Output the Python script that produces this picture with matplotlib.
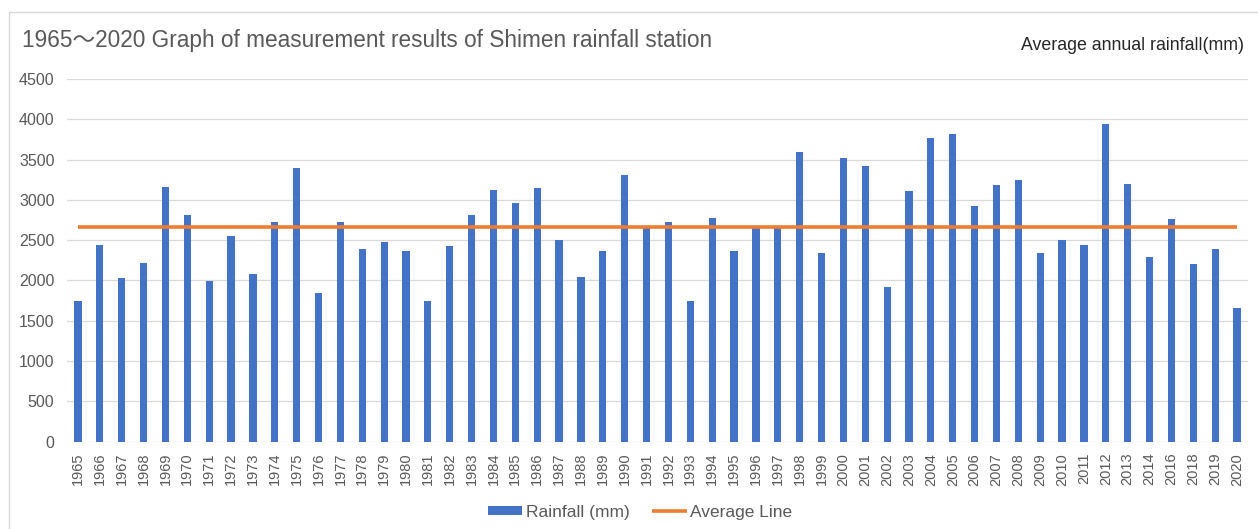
import matplotlib.pyplot as plt
from matplotlib.patches import Rectangle
import numpy as np

years = [str(y) for y in range(1965, 2015)] + ["2016", "2018", "2019", "2020"]
rainfall = [
    1740, 2440, 2030, 2220, 3160, 2810, 1990, 2550, 2080, 2720,
    3390, 1850, 2720, 2390, 2480, 2360, 1740, 2430, 2810, 3120,
    2960, 3150, 2500, 2040, 2360, 3310, 2650, 2730, 1740, 2770,
    2370, 2650, 2650, 3590, 2340, 3520, 3420, 1920, 3110, 3770,
    3820, 2930, 3190, 3250, 2340, 2500, 2440, 3940, 3200, 2290,
    2760, 2210, 2390, 1660,
]
average = [2660] * len(years)
yticks = list(range(0, 4501, 500))

BLUE = "#4472C4"
ORANGE = "#ED7D31"
TXT = "#595959"
FONT = ["Liberation Sans", "DejaVu Sans", "Noto Sans CJK JP"]

plt.rcParams["font.family"] = FONT

W, H = 1258, 529
fig = plt.figure(figsize=(W / 100, H / 100), dpi=100)

# outer chart frame (cut off at right and bottom like the screenshot)
fig.patches.append(Rectangle((9 / W, -0.05), 1.1, 1 - 12 / H + 0.05,
                             transform=fig.transFigure, fill=False,
                             edgecolor="#D9D9D9", linewidth=1.0))

ax = fig.add_axes([67 / W, 1 - 441.7 / H, (1248 - 67) / W, (441.7 - 79) / H])
x = np.arange(len(years))
bars = ax.bar(x, rainfall, width=0.33, color=BLUE, zorder=2, label="Rainfall (mm)")
line, = ax.plot(x, average, color=ORANGE, linewidth=2.6, zorder=3,
                solid_capstyle="butt", label="Average Line")

ax.set_xlim(-0.5, len(years) - 0.5)
ax.set_ylim(0, 4500)
ax.set_yticks(yticks)
ax.set_xticks(x)
ax.set_xticklabels(years, rotation=90)
ax.grid(axis="y", color="#D9D9D9", linewidth=0.9, zorder=0)
ax.tick_params(axis="both", length=0, colors=TXT, labelsize=10.5)
ax.tick_params(axis="y", pad=9, labelsize=11.5)
ax.tick_params(axis="x", pad=8)
for s in ax.spines.values():
    s.set_visible(False)

fig.text(22 / W, 1 - 41 / H, "1965～2020 Graph of measurement results of Shimen rainfall station",
         fontsize=16.3, color=TXT, va="center", ha="left", family=FONT)
fig.text(1244 / W, 1 - 45 / H, "Average annual rainfall(mm)",
         fontsize=12.8, color="#262626", va="center", ha="right", family=FONT)

fig.legend([bars, line], ["Rainfall (mm)", "Average Line"],
           loc="center", bbox_to_anchor=(640 / W, 1 - 512 / H), ncol=2,
           frameon=False, fontsize=12.5, handlelength=2.0, handleheight=0.45,
           handletextpad=0.2, columnspacing=1.3, labelcolor=TXT)

fig.savefig("out.png", dpi=100, facecolor="white")
